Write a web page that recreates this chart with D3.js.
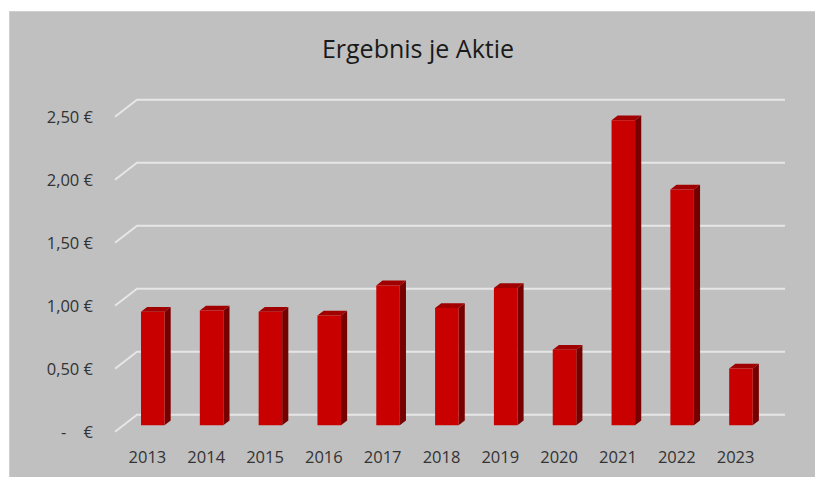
<!DOCTYPE html>
<html>
<head>
<meta charset="utf-8">
<script src="https://cdn.jsdelivr.net/npm/d3@7"></script>
<style>
  html, body { margin: 0; padding: 0; background: #ffffff; }
  svg { display: block; }
  text { font-family: "Open Sans", "Liberation Sans", sans-serif; }
</style>
</head>
<body>
<svg id="chart" width="815" height="477"></svg>
<script>
// Ergebnis je Aktie (EUR) per year
const years = ["2013", "2014", "2015", "2016", "2017", "2018", "2019", "2020", "2021", "2022", "2023"];
const eps = [0.90, 0.91, 0.90, 0.87, 1.11, 0.93, 1.09, 0.60, 2.42, 1.87, 0.45];
const tickValues = [0, 0.5, 1.0, 1.5, 2.0, 2.5];
const tickLabels = ["-    €", "0,50 €", "1,00 €", "1,50 €", "2,00 €", "2,50 €"];
const title = "Ergebnis je Aktie";

const W = 815, H = 477;
const svg = d3.select("#chart");

// chart background
svg.append("rect")
  .attr("x", 9.5).attr("y", 11.5)
  .attr("width", W - 9).attr("height", H - 11)
  .attr("fill", "#c0c0c0")
  .attr("stroke", "#cfcfcf").attr("stroke-width", 1);

// front-plane scales; depth is an oblique offset toward the back wall
const x = d3.scaleBand().domain(years).range([115, 762]).paddingInner(0.6).paddingOuter(0.3);
const y = d3.scaleLinear().domain([0, 2.5]).range([431.7, 116.7]);
const DX = 22, DY = 17;
const proj = (px, v, f) => [px + DX * f, y(v) - DY * f];
const poly = pts => "M" + pts.map(p => p.join(",")).join("L") + "Z";

// gridlines: short floor diagonal, then along the back wall
const xL = x.range()[0], xR = x.range()[1];
svg.append("g").selectAll("path").data(tickValues).join("path")
  .attr("d", t => {
    const a = proj(xL, t, 0), b = proj(xL, t, 1), c = proj(xR + 1, t, 1);
    return `M${a}L${b}L${c}`;
  })
  .attr("fill", "none")
  .attr("stroke", "#e6e6e6")
  .attr("stroke-width", 2);

// 3D columns
const f1 = 0.38, f2 = 0.66;
const bw = x.bandwidth();
const bars = svg.append("g").selectAll("g").data(years.map((yr, i) => ({ yr, v: eps[i] }))).join("g");

bars.append("path") // side face
  .attr("d", d => {
    const x1 = x(d.yr) + bw;
    return poly([proj(x1, 0, f1), proj(x1, 0, f2), proj(x1, d.v, f2), proj(x1, d.v, f1)]);
  })
  .attr("fill", "#760000");

bars.append("path") // top face
  .attr("d", d => {
    const x0 = x(d.yr), x1 = x0 + bw;
    return poly([proj(x0, d.v, f1), proj(x1, d.v, f1), proj(x1, d.v, f2), proj(x0, d.v, f2)]);
  })
  .attr("fill", "#a00000");

bars.append("path") // front face
  .attr("d", d => {
    const x0 = x(d.yr), x1 = x0 + bw;
    return poly([proj(x0, 0, f1), proj(x1, 0, f1), proj(x1, d.v, f1), proj(x0, d.v, f1)]);
  })
  .attr("fill", "#c80000");

// value axis labels
svg.append("g").selectAll("text").data(tickValues).join("text")
  .attr("x", 93)
  .attr("y", t => y(t) + 6)
  .attr("text-anchor", "end")
  .attr("font-size", 16.5)
  .attr("fill", "#333333")
  .style("white-space", "pre")
  .text((t, i) => tickLabels[i]);

// category labels
svg.append("g").selectAll("text").data(years).join("text")
  .attr("x", d => x(d) + bw / 2 + DX * 0.5 - 8)
  .attr("y", 462.5)
  .attr("text-anchor", "middle")
  .attr("font-size", 16.5)
  .attr("fill", "#333333")
  .text(d => d);

// title
svg.append("text")
  .attr("x", 418).attr("y", 57.5)
  .attr("text-anchor", "middle")
  .attr("font-size", 25)
  .attr("fill", "#1a1a1a")
  .text(title);
</script>
</body>
</html>
